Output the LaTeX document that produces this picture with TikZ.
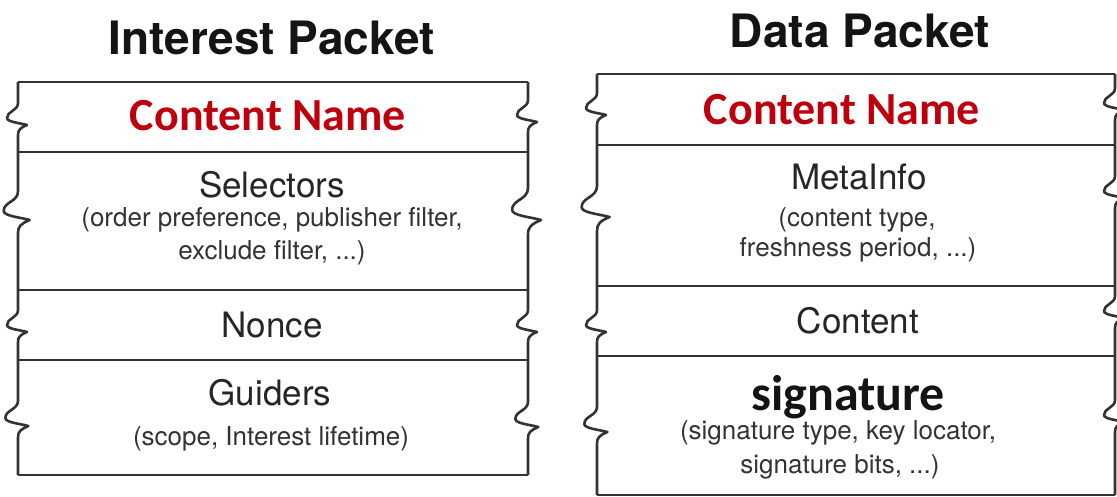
\documentclass[tikz,border=0pt]{standalone}
\usepackage{fontspec}
\setmainfont{TeX Gyre Heros}
\newfontfamily\calibri{Carlito}
\definecolor{cnred}{RGB}{190,0,12}
% torn side of a packet: lead in, bulge, sharp point, back to the edge
\newcommand\tear[3]{-- (#1,#2-22*#3) .. controls (#1,#2-14*#3) and (#1-11*#3,#2-14*#3) .. (#1-11*#3,#2-7*#3) .. controls (#1-11*#3,#2-3*#3) and (#1+2*#3,#2-2*#3) .. (#1+9*#3,#2) .. controls (#1+2*#3,#2+3*#3) and (#1,#2+5*#3) .. (#1,#2+10*#3)}
\tikzset{
    edge/.style={line width=2.6pt,draw=black!80,line join=round},
    ptitle/.style={anchor=base,inner sep=0pt,text=black!92,font=\fontsize{46}{50}\selectfont\bfseries},
    cname/.style={anchor=base,inner sep=0pt,text=cnred,font=\fontsize{46}{50}\calibri\bfseries},
    field/.style={anchor=base,inner sep=0pt,text=black!85,font=\fontsize{35}{40}\selectfont},
    fdetail/.style={anchor=base,inner sep=0pt,text=black!80,font=\fontsize{26}{30}\selectfont},
    signame/.style={anchor=base,inner sep=0pt,text=black!92,font=\fontsize{50}{52}\calibri\bfseries}
}
\begin{document}
\begin{tikzpicture}[x=1pt,y=-1pt]
    \useasboundingbox[fill=white] (0,0) rectangle (1117,497);
    % interest packet
    \foreach \y in {82,152,290,360,475}
        \draw[edge] (18,\y) -- (528,\y);
    \draw[edge] (18,82) \tear{18}{125}{1} \tear{18}{220}{1.3} \tear{18}{332}{1} \tear{18}{426}{1.15} -- (18,475);
    \draw[edge] (528,82) \tear{528}{122}{1} \tear{528}{220}{1.45} \tear{528}{332}{1} \tear{528}{427}{1.15} -- (528,475);
    \node[ptitle] (itit) at (272,55) {Interest Packet};
    \node[cname] (iname) at (268,131) {Content Name};
    \node[field] (sel) at (272,198) {Selectors};
    \node[fdetail] (selA) at (272,227) {(order preference, publisher filter,};
    \node[fdetail] (selB) at (272,260) {exclude filter, ...)};
    \node[field] (nonce) at (272,337) {Nonce};
    \node[field] (guid) at (270,405) {Guiders};
    \node[fdetail] (guidA) at (271,445) {(scope, Interest lifetime)};
    % data packet
    \foreach \y in {74,145,286,356,495}
        \draw[edge] (597,\y) -- (1115,\y);
    \draw[edge] (597,74) \tear{597}{115}{1} \tear{597}{217}{1.4} \tear{597}{332}{1} \tear{597}{432}{1.15} -- (597,495);
    \draw[edge] (1115,74) \tear{1115}{110}{1} \tear{1115}{198}{1} \tear{1115}{318}{1} \tear{1115}{422}{1} -- (1115,495);
    \node[ptitle] (dtit) at (860,48) {Data Packet};
    \node[cname] (dname) at (842,125) {Content Name};
    \node[field] (meta) at (859,190) {MetaInfo};
    \node[fdetail] (metaA) at (857,227) {(content type,};
    \node[fdetail] (metaB) at (858,257) {freshness period, ...)};
    \node[field] (cont) at (858,333) {Content};
    \node[signame] (sig) at (848,410) {signature};
    \node[fdetail] (sigA) at (838,439) {(signature type, key locator,};
    \node[fdetail] (sigB) at (840,473) {signature bits, ...)};
\end{tikzpicture}
\end{document}
